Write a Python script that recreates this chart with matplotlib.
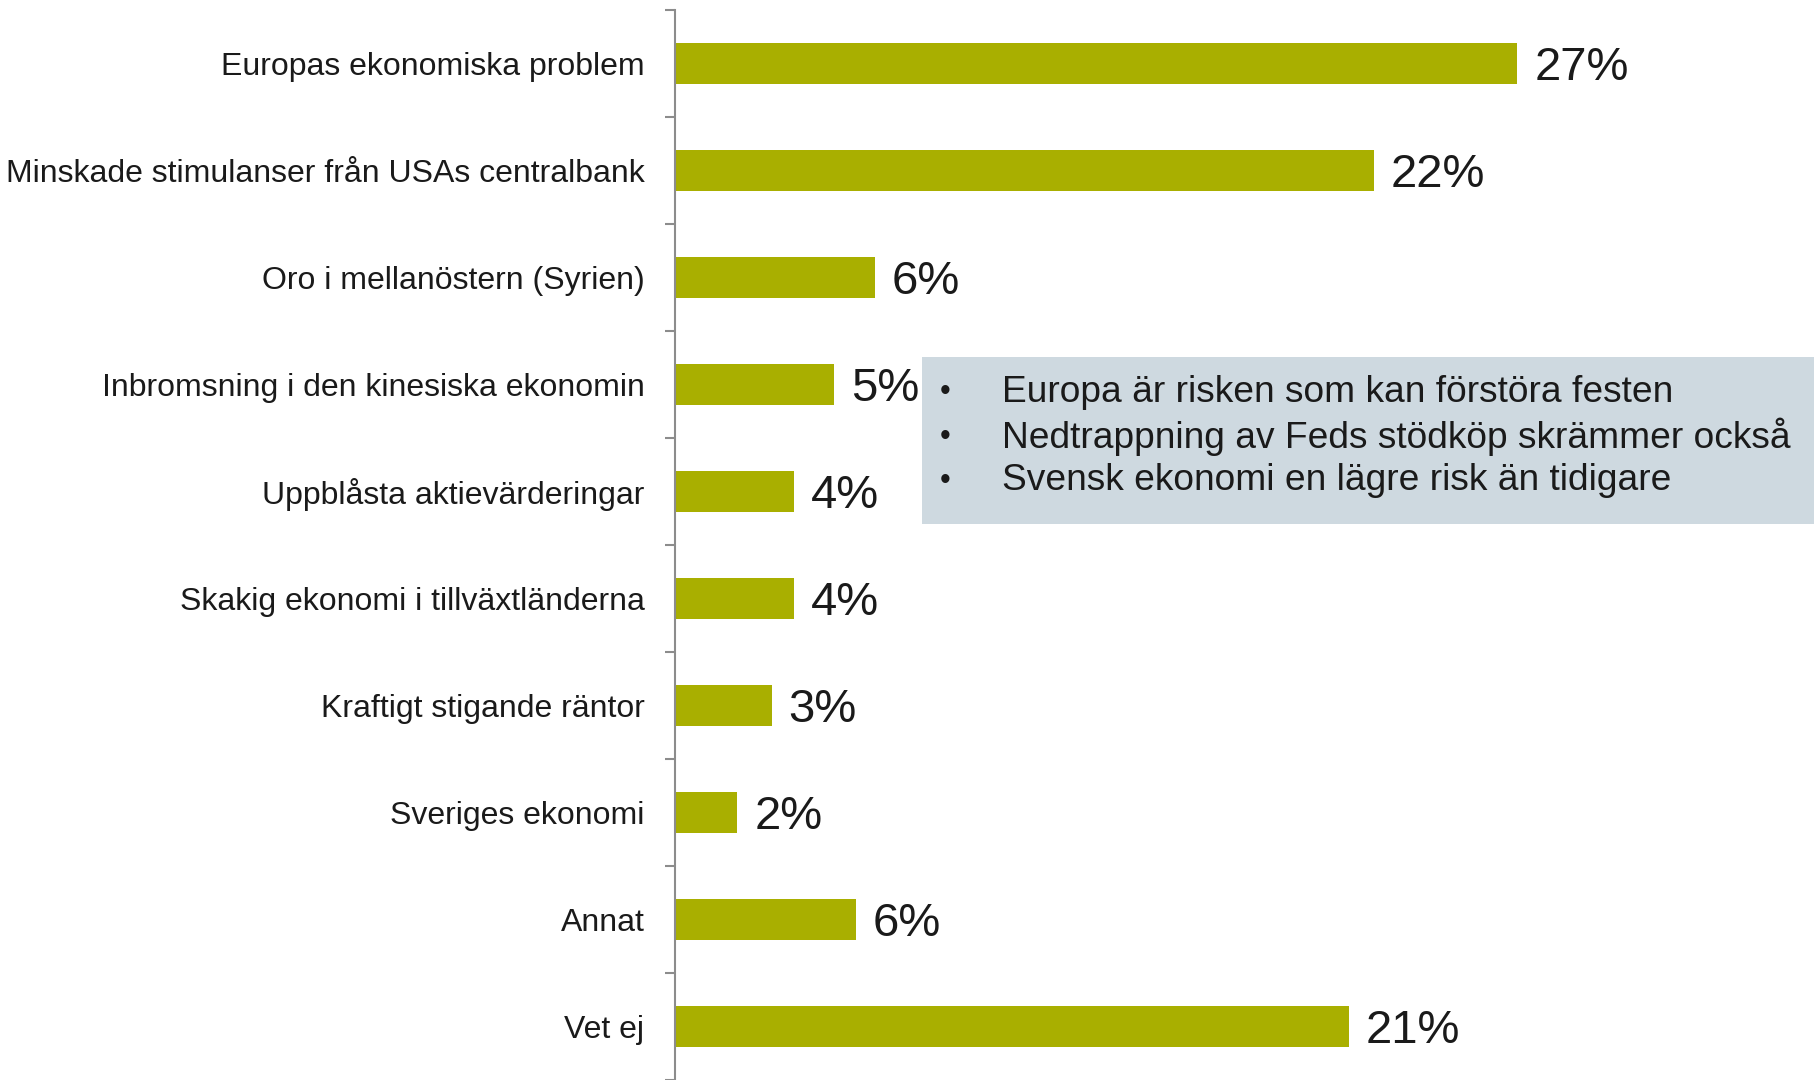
import matplotlib
matplotlib.use("Agg")
import matplotlib.pyplot as plt
from matplotlib.patches import Rectangle

categories = [
    "Europas ekonomiska problem",
    "Minskade stimulanser från USAs centralbank",
    "Oro i mellanöstern (Syrien)",
    "Inbromsning i den kinesiska ekonomin",
    "Uppblåsta aktievärderingar",
    "Skakig ekonomi i tillväxtländerna",
    "Kraftigt stigande räntor",
    "Sveriges ekonomi",
    "Annat",
    "Vet ej",
]
values = [27.0, 22.4, 6.4, 5.1, 3.8, 3.8, 3.1, 2.0, 5.8, 21.6]
value_labels = ["27%", "22%", "6%", "5%", "4%", "4%", "3%", "2%", "6%", "21%"]
bullets = [
    "Europa är risken som kan förstöra festen",
    "Nedtrappning av Feds stödköp skrämmer också",
    "Svensk ekonomi en lägre risk än tidigare",
]

plt.rcParams['font.family'] = ['Liberation Sans', 'DejaVu Sans']
W, H, DPI = 1814, 1080, 100
fig = plt.figure(figsize=(W / DPI, H / DPI), dpi=DPI)

ax_left = 675 / W
ax = fig.add_axes([ax_left, 0, 1 - ax_left, 1 - 10 / H])
n = len(categories)
ppu = 107.6
ax.set_ylim(n - 0.5 - 6 / ppu, -0.5)
xscale = 31.2
ax.set_xlim(0, (W - 675) / xscale)

ypos = list(range(n))
ax.barh(ypos, values, height=0.39, color="#A9AF00", edgecolor="none")
for y, v, lab in zip(ypos, values, value_labels):
    ax.text(v + 17 / xscale, y + 0.045, lab, va="center", ha="left", fontsize=34, color="#1a1a1a")

for s in ["top", "right", "bottom"]:
    ax.spines[s].set_visible(False)
ax.spines["left"].set_color("#8c8c8c")
ax.spines["left"].set_linewidth(1.5)
ax.set_xticks([])
ax.set_yticks([i - 0.5 for i in range(n + 1)])
ax.set_yticklabels([])
ax.tick_params(axis="y", which="major", length=7, width=1.5, color="#8c8c8c")
ax.set_yticks(ypos, categories, minor=True)
ax.tick_params(axis="y", which="minor", length=0, pad=22, labelsize=23, labelcolor="#1a1a1a")

# Text box
bx0, by0, bx1, by1 = 922 / W, 1 - 524 / H, 1.0, 1 - 357 / H
fig.patches.append(Rectangle((bx0, by0), bx1 - bx0, by1 - by0, transform=fig.transFigure,
                             facecolor="#CED9E0", edgecolor="none", zorder=5))
line_y = [392, 437, 481]
for ly, t in zip(line_y, bullets):
    fig.text(940 / W, 1 - ly / H, "•", fontsize=22, va="center", ha="left", color="#1a1a1a", zorder=6)
    fig.text(1002 / W, 1 - ly / H, t, fontsize=26.7, va="center", ha="left", color="#1a1a1a",
             zorder=6)

fig.savefig("out.png", dpi=DPI)
